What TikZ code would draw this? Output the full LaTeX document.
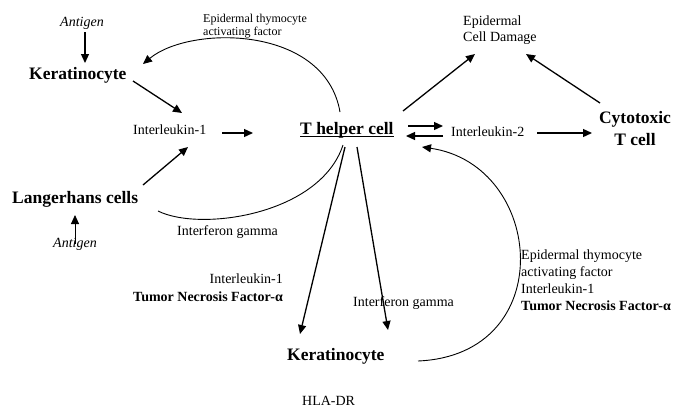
\documentclass[tikz,border=0pt]{standalone}
\usepackage{fontspec}
\setmainfont{Liberation Serif}
\usetikzlibrary{arrows.meta}
\begin{document}
\begin{tikzpicture}[x=1pt,y=-1pt,
  sm/.style={font=\fontsize{14}{17}\selectfont, inner sep=0pt},
  tiny/.style={font=\fontsize{12}{13}\selectfont, inner sep=0pt},
  big/.style={font=\fontsize{17.5}{21}\selectfont\bfseries, inner sep=0pt},
  arr/.style={line width=1.3pt, -{Triangle[length=9pt,width=8pt]}},
  tarr/.style={line width=0.9pt, -{Triangle[length=9pt,width=8pt]}},
  arc/.style={line width=0.9pt}]
\fill[white] (0,0) rectangle (688,407);
\useasboundingbox (0,0) rectangle (688,407);

% text nodes (multi-line nodes: base anchor = last line baseline)
\node[sm, anchor=base west] (antA) at (60,26) {\itshape Antigen};
\node[big, anchor=base west] (ker1) at (29,79) {Keratinocyte};
\node[tiny, anchor=base west, align=left] (etaf) at (203,35) {Epidermal thymocyte\\activating factor};
\node[sm, anchor=base west] (il1) at (133,134) {Interleukin-1};
\node[big, anchor=base west] (th) at (300,134) {T helper cell};
\draw[line width=0.9pt] ([yshift=-2pt]th.base west) -- ([yshift=-2pt]th.base east);
\node[sm, anchor=base west] (il2) at (451,136) {Interleukin-2};
\node[big, anchor=base, align=center, font=\fontsize{17.5}{22}\selectfont\bfseries] (ctc) at (635,145) {Cytotoxic\\T cell};
\node[sm, anchor=base west, align=left, font=\fontsize{14}{16}\selectfont] (ecd) at (463,41) {Epidermal\\Cell Damage};
\node[big, anchor=base west] (lang) at (12,203) {Langerhans cells};
\node[sm, anchor=base west] (antB) at (53,247) {\itshape Antigen};
\node[sm, anchor=base west] (ifg1) at (177,235) {Interferon gamma};
\node[sm, anchor=base east, align=right, font=\fontsize{14}{18}\selectfont] (iltnf) at (283,301) {Interleukin-1\\\textbf{Tumor Necrosis Factor-α}};
\node[sm, anchor=base west] (ifg2) at (353,306) {Interferon gamma};
\node[big, anchor=base west] (ker2) at (287,360) {Keratinocyte};
\node[sm, anchor=base west] (hla) at (302,405) {HLA-DR};
\node[sm, anchor=base west, align=left, font=\fontsize{14}{17}\selectfont] (rblk) at (521,310) {Epidermal thymocyte\\activating factor\\Interleukin-1\\\textbf{Tumor Necrosis Factor-α}};

% connector end points
\coordinate (a1s) at (85,32);   \coordinate (a1e) at (85,63);
\coordinate (a2s) at (133,81);  \coordinate (a2e) at (182,113);
\coordinate (a3s) at (222,133); \coordinate (a3e) at (253,133);
\coordinate (a4s) at (143,185); \coordinate (a4e) at (188,147);
\coordinate (a5s) at (75,244);  \coordinate (a5e) at (75,215);
\coordinate (a6s) at (345,147); \coordinate (a6e) at (300,334);
\coordinate (a7s) at (357,147); \coordinate (a7e) at (388,330);
\coordinate (a8s) at (403,111); \coordinate (a8e) at (475,54);
\coordinate (a9s) at (600,103); \coordinate (a9e) at (526,54);
\coordinate (a10s) at (408,126); \coordinate (a10e) at (443,126);
\coordinate (a11s) at (443,136); \coordinate (a11e) at (406,136);
\coordinate (a12s) at (537,133); \coordinate (a12e) at (592,133);
\coordinate (c1s) at (340,112); \coordinate (c1e) at (143,64);
\coordinate (c2s) at (158,211); \coordinate (c2e) at (343,145);
\coordinate (c3s) at (418,361); \coordinate (c3e) at (422,147);

% straight arrows
\draw[arr] (a1s) -- (a1e);
\draw[arr] (a2s) -- (a2e);
\draw[arr] (a3s) -- (a3e);
\draw[arr] (a4s) -- (a4e);
\draw[tarr] (a5s) -- (a5e);
\draw[arr] (a6s) -- (a6e);
\draw[arr] (a7s) -- (a7e);
\draw[arr] (a8s) -- (a8e);
\draw[arr] (a9s) -- (a9e);
\draw[arr] (a10s) -- (a10e);
\draw[arr] (a11s) -- (a11e);
\draw[arr] (a12s) -- (a12e);

% curved connectors
\draw[arc, -{Triangle[length=9pt,width=8pt]}] (c1s) .. controls (325,25) and (190,25) .. (c1e);
\draw[arc] (c2s) .. controls (200,232) and (320,215) .. (c2e);
\draw[arc, -{Triangle[length=9pt,width=8pt]}] (c3s) .. controls (560,355) and (545,165) .. (c3e);
\end{tikzpicture}
\end{document}
